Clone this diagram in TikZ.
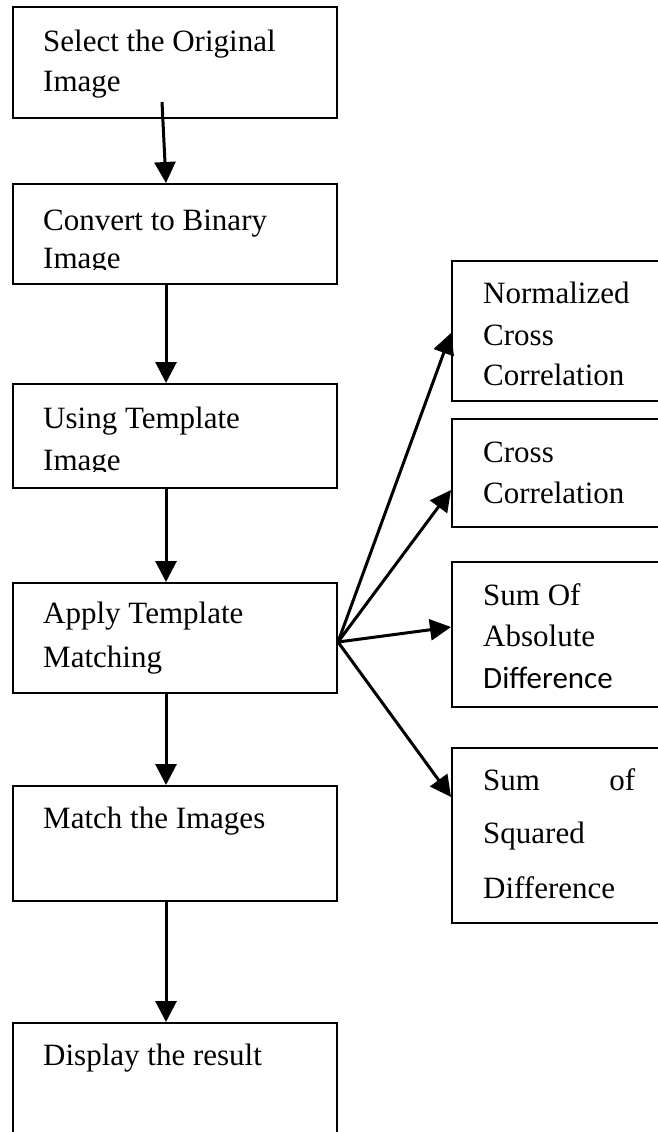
\documentclass[tikz,border=0pt]{standalone}
\usepackage{fontspec}
\setmainfont{Liberation Serif}
\newfontfamily\calibfont{Carlito}
\usetikzlibrary{arrows.meta}

\begin{document}
\begin{tikzpicture}[x=1pt,y=-1pt,
  box/.style={draw, line width=2pt, anchor=north west, inner sep=0pt},
  txt/.style={anchor=base west, inner sep=0pt, font=\fontsize{31}{38}\selectfont},
  arr/.style={line width=3pt, -{Triangle[length=21pt,width=21pt]}}]

\clip (0,0) rectangle (658,1132);

% main column of steps
\node[box, minimum width=324pt, minimum height=111pt] (b1) at (12,6) {};
\node[box, minimum width=324pt, minimum height=100pt] (b2) at (12,183) {};
\node[box, minimum width=324pt, minimum height=104pt] (b3) at (12,383) {};
\node[box, minimum width=324pt, minimum height=110pt] (b4) at (12,582) {};
\node[box, minimum width=324pt, minimum height=115pt] (b5) at (12,785) {};
\node[box, minimum width=324pt, minimum height=140pt] (b6) at (12,1022) {};

% matching methods on the right
\node[box, minimum width=230pt, minimum height=140pt] (r1) at (451,260) {};
\node[box, minimum width=230pt, minimum height=108pt] (r2) at (451,418) {};
\node[box, minimum width=230pt, minimum height=145pt] (r3) at (451,561) {};
\node[box, minimum width=230pt, minimum height=175pt] (r4) at (451,747) {};

% labels of the steps
\node[txt] (t1a) at (43,52) {Select the Original};
\node[txt] (t1b) at (43,92) {Image};
\node[txt] (t2a) at (43,230) {Convert to Binary};
\begin{scope}
  \clip (12,240) rectangle (336,269);
  \node[txt] (t2b) at (43,268) {Image};
\end{scope}
\node[txt] (t3a) at (43,428) {Using Template};
\begin{scope}
  \clip (12,440) rectangle (336,471);
  \node[txt] (t3b) at (43,470) {Image};
\end{scope}
\node[txt] (t4a) at (43,623) {Apply Template};
\node[txt] (t4b) at (43,667) {Matching};
\node[txt] (t5a) at (43,828) {Match the Images};
\node[txt] (t6a) at (43,1065) {Display the result};

% labels of the methods
\node[txt] (u1a) at (483,303) {Normalized};
\node[txt] (u1b) at (483,345) {Cross};
\node[txt] (u1c) at (483,385) {Correlation};
\node[txt] (u2a) at (483,462) {Cross};
\node[txt] (u2b) at (483,503) {Correlation};
\node[txt] (u3a) at (483,605) {Sum Of};
\node[txt] (u3b) at (483,646) {Absolute};
\node[txt, font=\fontsize{31}{38}\calibfont] (u3c) at (483,688) {Difference};
\node[txt, text width=152pt] (u4a) at (483,790) {Sum\hfill of};
\node[txt] (u4b) at (483,843) {Squared};
\node[txt] (u4c) at (483,898) {Difference};

% vertical flow
\coordinate (axis) at (166,0);
\coordinate (s1) at (162,102);
\draw[arr] (s1) -- (b2.north -| axis);
\draw[arr] (b2.south -| axis) -- (b3.north -| axis);
\draw[arr] (b3.south -| axis) -- (b4.north -| axis);
\draw[arr] (b4.south -| axis) -- (b5.north -| axis);
\draw[arr] (b5.south -| axis) -- (b6.north -| axis);

% fan-out to the methods
\coordinate (hub) at (338,642);
\coordinate (y1) at (0,333);
\coordinate (y2) at (0,490);
\coordinate (y3) at (0,627);
\coordinate (y4) at (0,797);
\draw[arr] (hub) -- (r1.west |- y1);
\draw[arr] (hub) -- (r2.west |- y2);
\draw[arr] (hub) -- (r3.west |- y3);
\draw[arr] (hub) -- (r4.west |- y4);

\end{tikzpicture}
\end{document}
